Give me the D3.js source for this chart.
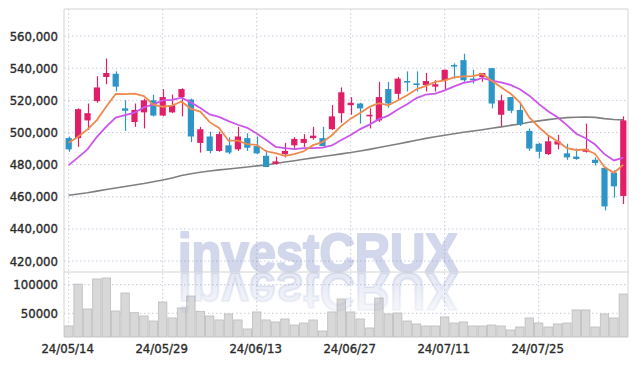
<!DOCTYPE html>
<html>
<head>
<meta charset="utf-8">
<script src="https://cdn.jsdelivr.net/npm/d3@7"></script>
<style>
  body { margin: 0; background: #fff; }
  svg text { font-family: "DejaVu Sans Condensed", "DejaVu Sans", sans-serif; }
</style>
</head>
<body>
<div id="chart"></div>
<script>
// trading days
const dates = ["24/05/14","24/05/16","24/05/17","24/05/20","24/05/21","24/05/22","24/05/23","24/05/24","24/05/27","24/05/28",
  "24/05/29","24/05/30","24/05/31","24/06/03","24/06/04","24/06/05","24/06/07","24/06/10","24/06/11","24/06/12",
  "24/06/13","24/06/14","24/06/17","24/06/18","24/06/19","24/06/20","24/06/21","24/06/24","24/06/25","24/06/26",
  "24/06/27","24/06/28","24/07/01","24/07/02","24/07/03","24/07/04","24/07/05","24/07/08","24/07/09","24/07/10",
  "24/07/11","24/07/12","24/07/15","24/07/16","24/07/17","24/07/18","24/07/19","24/07/22","24/07/23","24/07/24",
  "24/07/25","24/07/26","24/07/29","24/07/30","24/07/31","24/08/01","24/08/02","24/08/05","24/08/06","24/08/07"];

const opens = [496500,496500,507500,519500,534500,536500,515000,506500,512500,520000,
  510500,512500,522000,520500,493500,497500,488500,492000,489500,496500,
  491500,485500,480500,486500,492000,493500,496500,496500,502000,512000,
  517000,518000,510000,507500,527000,524000,532000,530500,529500,528500,
  532500,542000,545000,533500,534500,540000,511000,522000,514000,501000,
  493000,486500,492500,487000,485000,488000,483000,478000,475000,460500];
const highs = [497500,515000,518000,535000,546000,538000,520000,518000,521000,523500,
  527000,523500,527500,521000,503500,500500,500500,497000,503500,499500,
  497500,489000,485000,493500,497000,499000,503500,503500,517000,528000,
  522000,518500,515000,531500,531500,534500,538000,538000,537000,532500,
  539000,543000,549000,539000,537000,540000,523500,522000,518000,502500,
  493500,498000,498500,493000,490000,505500,484500,478500,476500,510000];
const lows = [488000,491000,501500,518500,530000,525500,501000,503500,502500,510000,
  510000,512000,510000,494000,487500,487000,488000,486500,488500,488500,
  486500,478500,480000,484500,490000,491000,495500,491500,501500,506000,
  511000,505500,502500,506500,515500,520000,525500,525500,525500,525500,
  527000,533500,531500,530500,531500,515000,504000,512000,504000,488500,
  484000,486000,489500,483000,483000,487500,479500,451500,459500,455500];
const closes = [489500,514500,512000,528000,537000,528500,513500,514000,520000,510500,
  522000,517000,527000,497500,502000,488500,499000,487500,497500,490500,
  487000,478500,482000,488500,496000,496000,498000,491500,510000,525000,
  518500,515000,511000,522000,518000,533500,531500,529500,532000,530000,
  539000,541000,532500,532500,537000,518000,520000,513500,505000,490000,
  488000,494500,494500,484500,483500,489500,481000,454000,466500,507500];
const volumes = [27800,101000,57500,110000,111700,54000,85500,51000,45300,36500,
  69700,41800,59300,80200,53500,45300,38300,48800,38300,22600,
  52300,38300,34800,40000,29500,33000,38300,19000,52300,75000,
  52300,40000,24300,76700,48800,50500,36500,31300,27800,27800,
  43500,33000,34800,27800,27800,29500,27800,20800,26000,41800,
  33000,26000,31300,33000,55800,55800,26000,48800,41800,83700];

// moving averages (5, 10, long)
const ma5 = [493600,497300,501900,507700,516200,524000,523800,524200,522600,517300,
  516000,516700,519300,514700,513000,506400,502800,494900,494900,492700,
  492300,488300,487200,485400,486500,488300,492100,494000,498300,504100,
  508600,512100,515900,518200,516900,519900,523200,526900,529000,531400,
  532400,534300,534900,535000,536400,532200,528100,524200,518800,509400,
  503400,498300,494500,490300,489100,489400,486700,478500,474900,479800];
const ma10 = [479700,484500,489500,497300,503600,509200,510800,512300,515600,517500,
  520000,520300,521700,518700,515200,511200,509700,507100,504800,502900,
  499400,495500,491100,490200,489600,490300,490200,490600,491900,495300,
  498400,502100,504900,508300,510500,514300,517600,521400,523600,524100,
  526200,528700,530900,532000,533900,532300,531200,529600,526900,522900,
  517800,513200,509400,504600,499200,496400,492500,486500,482600,484400];
const maLong = [460900,461700,462500,463500,464500,465500,466400,467300,468200,469300,
  470400,471700,473200,474300,475200,476000,476700,477300,477900,478500,
  479200,479800,480700,481600,482400,483300,484200,485000,485800,486700,
  487500,488500,489500,490600,491700,492800,494000,495200,496300,497300,
  498300,499200,500100,500900,501700,502600,503500,504400,505300,506300,
  507200,508000,508700,509200,509500,509600,509400,508600,508100,507800];

const priceTicks = [420000,440000,460000,480000,500000,520000,540000,560000];
const volumeTicks = [50000,100000];
const dateTicks = ["24/05/14","24/05/29","24/06/13","24/06/27","24/07/11","24/07/25"];

// dimensions
const width = 638, height = 366;
const plot = { left: 64, right: 628, top: 9, priceBottom: 272, volBottom: 337 };

const svg = d3.select("#chart")
  .append("svg")
  .attr("width", width)
  .attr("height", height);

// fading fill for the mirrored watermark
const grad = svg.append("defs").append("linearGradient")
  .attr("id", "wmFade")
  .attr("x1", 0).attr("y1", 0).attr("x2", 0).attr("y2", 1);
grad.append("stop").attr("offset", "0%").attr("stop-color", "#7d8cc6").attr("stop-opacity", 0.03);
grad.append("stop").attr("offset", "100%").attr("stop-color", "#7d8cc6").attr("stop-opacity", 0.24);

// scales
const xScale = d3.scaleBand()
  .domain(dates)
  .range([plot.left, plot.right])
  .padding(0);
const step = xScale.step();
const xMid = d => xScale(d) + step / 2;

const yPrice = d3.scaleLinear()
  .domain([413200, 576800])
  .range([plot.priceBottom, plot.top]);

const yVol = d3.scaleLinear()
  .domain([8500, 122200])
  .range([plot.volBottom, plot.priceBottom]);

// grid
const gridColor = "#c5cbdc";
svg.append("g")
  .selectAll("line")
  .data(priceTicks)
  .join("line")
  .attr("x1", plot.left).attr("x2", plot.right)
  .attr("y1", d => yPrice(d)).attr("y2", d => yPrice(d))
  .attr("stroke", gridColor)
  .attr("stroke-dasharray", "1.5,2.5");

svg.append("g")
  .selectAll("line")
  .data(volumeTicks)
  .join("line")
  .attr("x1", plot.left).attr("x2", plot.right)
  .attr("y1", d => yVol(d)).attr("y2", d => yVol(d))
  .attr("stroke", gridColor)
  .attr("stroke-dasharray", "1.5,2.5");

svg.append("g")
  .selectAll("line")
  .data(dateTicks)
  .join("line")
  .attr("x1", d => xMid(d)).attr("x2", d => xMid(d))
  .attr("y1", plot.top).attr("y2", plot.volBottom)
  .attr("stroke", gridColor)
  .attr("stroke-dasharray", "1.5,2.5");

// volume bars
svg.append("g")
  .selectAll("rect")
  .data(dates)
  .join("rect")
  .attr("x", d => xScale(d) + 0.5)
  .attr("width", step - 1)
  .attr("y", (d, i) => yVol(volumes[i]))
  .attr("height", (d, i) => plot.volBottom - yVol(volumes[i]))
  .attr("fill", "#d8d8d8")
  .attr("stroke", "#bcbcbc")
  .attr("stroke-width", 0.8);

// watermark + reflection
const wmX = 318, wmY = 271;
svg.append("text")
  .attr("x", wmX).attr("y", wmY)
  .attr("text-anchor", "middle")
  .attr("font-size", 54)
  .attr("textLength", 280)
  .attr("lengthAdjust", "spacingAndGlyphs")
  .attr("fill", "#7d8cc6")
  .attr("stroke", "#7d8cc6")
  .attr("stroke-width", 2.2)
  .attr("stroke-linejoin", "round")
  .attr("opacity", 0.34)
  .style("font-family", "'Liberation Sans', Arial, sans-serif")
  .style("font-weight", "bold")
  .text("investCRUX");

svg.append("text")
  .attr("x", wmX).attr("y", wmY)
  .attr("transform", `translate(0, ${2 * wmY + 2}) scale(1, -1)`)
  .attr("text-anchor", "middle")
  .attr("font-size", 54)
  .attr("textLength", 280)
  .attr("lengthAdjust", "spacingAndGlyphs")
  .attr("fill", "url(#wmFade)")
  .attr("stroke", "url(#wmFade)")
  .attr("stroke-width", 2.2)
  .style("font-family", "'Liberation Sans', Arial, sans-serif")
  .style("font-weight", "bold")
  .text("investCRUX");

// panel borders
const borderColor = "#d4d4d4";
svg.append("path")
  .attr("d", `M${plot.left},${plot.volBottom}V${plot.top}H${plot.right}V${plot.volBottom}M${plot.left},${plot.priceBottom}H${plot.right}`)
  .attr("fill", "none")
  .attr("stroke", borderColor);

// moving average lines
const maLine = arr => d3.line()
  .x((d, i) => xMid(dates[i]))
  .y(d => yPrice(d))(arr);

svg.append("path").attr("d", maLine(maLong))
  .attr("fill", "none").attr("stroke", "#7f7f7f").attr("stroke-width", 1.6);

// candles
const upColor = "#e01f68", downColor = "#2e95c7";
const bodyW = step * 0.66;
const candle = svg.append("g")
  .selectAll("g")
  .data(dates)
  .join("g")
  .attr("fill", (d, i) => closes[i] >= opens[i] ? upColor : downColor)
  .attr("stroke", (d, i) => closes[i] >= opens[i] ? upColor : downColor);

candle.append("line")
  .attr("x1", d => Math.round(xMid(d)) + 0.5).attr("x2", d => Math.round(xMid(d)) + 0.5)
  .attr("y1", (d, i) => yPrice(highs[i]))
  .attr("y2", (d, i) => yPrice(lows[i]))
  .attr("stroke-width", 1.2);

candle.append("rect")
  .attr("x", d => xMid(d) - bodyW / 2)
  .attr("width", bodyW)
  .attr("y", (d, i) => yPrice(Math.max(opens[i], closes[i])))
  .attr("height", (d, i) => Math.max(1.5, Math.abs(yPrice(opens[i]) - yPrice(closes[i]))))
  .attr("stroke", "none");

svg.append("path").attr("d", maLine(ma10))
  .attr("fill", "none").attr("stroke", "#cc55ea").attr("stroke-width", 1.8);
svg.append("path").attr("d", maLine(ma5))
  .attr("fill", "none").attr("stroke", "#ef8a4f").attr("stroke-width", 1.8);

// axis labels
const labelColor = "#2b2b2b";
const styleLabel = sel => sel
  .attr("font-size", 13)
  .attr("fill", labelColor)
  .attr("stroke", labelColor)
  .attr("stroke-width", 0.35);

svg.append("g")
  .selectAll("text")
  .data(priceTicks)
  .join("text")
  .attr("x", 58)
  .attr("y", d => yPrice(d))
  .attr("dy", "0.35em")
  .attr("text-anchor", "end")
  .call(styleLabel)
  .text(d => d3.format(",")(d));

svg.append("g")
  .selectAll("text")
  .data(volumeTicks)
  .join("text")
  .attr("x", 58)
  .attr("y", d => yVol(d))
  .attr("dy", "0.35em")
  .attr("text-anchor", "end")
  .call(styleLabel)
  .text(d => d);

svg.append("g")
  .selectAll("text")
  .data(dateTicks)
  .join("text")
  .attr("x", d => xMid(d) - 1)
  .attr("y", 348)
  .attr("dy", "0.35em")
  .attr("text-anchor", "middle")
  .call(styleLabel)
  .text(d => d);
</script>
</body>
</html>
